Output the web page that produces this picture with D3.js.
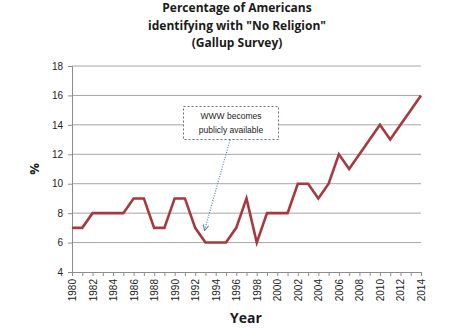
<!DOCTYPE html>
<html>
<head>
<meta charset="utf-8">
<script src="https://cdn.jsdelivr.net/npm/d3@7"></script>
<style>
  html, body { margin: 0; padding: 0; background: #fff; }
  svg { display: block; }
  text { font-family: "Open Sans", "Liberation Sans", sans-serif; }
</style>
</head>
<body>
<script>
// Gallup: share of Americans with no religious identity, by year
const years = [1980, 1981, 1982, 1983, 1984, 1985, 1986, 1987, 1988, 1989,
               1990, 1991, 1992, 1993, 1994, 1995, 1996, 1997, 1998, 1999,
               2000, 2001, 2002, 2003, 2004, 2005, 2006, 2007, 2008, 2009,
               2010, 2011, 2012, 2013, 2014];
const noReligion = [7, 7, 8, 8, 8, 8, 9, 9, 7, 7,
                    9, 9, 7, 6, 6, 6, 7, 9, 6, 8,
                    8, 8, 10, 10, 9, 10, 12, 11, 12, 13,
                    14, 13, 14, 15, 16];
const yTicks = [4, 6, 8, 10, 12, 14, 16, 18];
const xTickLabels = [1980, 1982, 1984, 1986, 1988, 1990, 1992, 1994, 1996,
                     1998, 2000, 2002, 2004, 2006, 2008, 2010, 2012, 2014];
const titleLines = ["Percentage of Americans", "identifying with \"No Religion\"", "(Gallup Survey)"];
const noteLines = ["WWW becomes", "publicly available"];
const noteYear = 1993;

const W = 469, H = 329;
const plot = { left: 72, right: 421, top: 66, bottom: 272 };

const svg = d3.select("body").append("svg").attr("width", W).attr("height", H);

const x = d3.scaleLinear().domain([1980, 2014]).range([plot.left, plot.right]);
const y = d3.scaleLinear().domain([4, 18]).range([plot.bottom, plot.top]);

// horizontal gridlines
svg.append("g")
  .selectAll("line")
  .data(yTicks.filter(d => d > 4))
  .join("line")
  .attr("x1", plot.left).attr("x2", plot.right)
  .attr("y1", d => y(d)).attr("y2", d => y(d))
  .attr("stroke", "#a6a6a6").attr("stroke-width", 1);

// y axis
const yAxis = svg.append("g")
  .attr("transform", `translate(${plot.left},0)`)
  .call(d3.axisLeft(y).tickValues(yTicks).tickSize(4).tickPadding(5));
yAxis.select(".domain").attr("stroke", "#8c8c8c");
yAxis.selectAll(".tick line").attr("stroke", "#8c8c8c");
yAxis.selectAll(".tick text")
  .attr("font-size", 10).attr("fill", "#222")
  .style("font-family", "'Liberation Sans', sans-serif");

// x axis: a tick every year, labels every other year
const xAxis = svg.append("g")
  .attr("transform", `translate(0,${plot.bottom})`)
  .call(d3.axisBottom(x).tickValues(years).tickSize(4).tickFormat(""));
xAxis.select(".domain").attr("stroke", "#8c8c8c");
xAxis.selectAll(".tick line").attr("stroke", "#8c8c8c");

svg.append("g")
  .selectAll("text")
  .data(xTickLabels)
  .join("text")
  .attr("transform", d => `translate(${x(d) + 4},${plot.bottom + 7}) rotate(-90)`)
  .attr("text-anchor", "end")
  .attr("font-size", 10)
  .attr("fill", "#222")
  .style("font-family", "'Liberation Sans', sans-serif")
  .text(d => d);

// data line
const line = d3.line()
  .x((d, i) => x(years[i]))
  .y(d => y(d));

svg.append("path")
  .datum(noReligion)
  .attr("d", line)
  .attr("fill", "none")
  .attr("stroke", "#a8383d")
  .attr("stroke-width", 2.6)
  .attr("stroke-linejoin", "miter");

// title
svg.append("g")
  .selectAll("text")
  .data(titleLines)
  .join("text")
  .attr("x", 237)
  .attr("y", (d, i) => 12 + i * 17.5)
  .attr("text-anchor", "middle")
  .attr("font-size", 12)
  .attr("font-weight", "bold")
  .attr("fill", "#1a1a1a")
  .text(d => d);

// axis titles
svg.append("text")
  .attr("transform", `translate(39,${(plot.top + plot.bottom) / 2}) rotate(-90)`)
  .attr("text-anchor", "middle")
  .attr("font-size", 13)
  .attr("font-weight", "bold")
  .attr("fill", "#1a1a1a")
  .text("%");

svg.append("text")
  .attr("x", 246).attr("y", 323)
  .attr("text-anchor", "middle")
  .attr("font-size", 14)
  .attr("font-weight", "bold")
  .attr("fill", "#1a1a1a")
  .text("Year");

// annotation callout
const note = svg.append("g");
note.append("rect")
  .attr("x", 183.5).attr("y", 106.5)
  .attr("width", 95).attr("height", 33)
  .attr("fill", "#fff")
  .attr("stroke", "#3a4a66")
  .attr("stroke-width", 0.8)
  .attr("stroke-dasharray", "2,2");
note.selectAll("text")
  .data(noteLines)
  .join("text")
  .attr("x", 231)
  .attr("y", (d, i) => 119 + i * 14)
  .attr("text-anchor", "middle")
  .attr("font-size", 8.5)
  .attr("fill", "#222")
  .style("font-family", "'Liberation Sans', sans-serif")
  .text(d => d);

svg.append("defs").append("marker")
  .attr("id", "arrowhead")
  .attr("viewBox", "0 0 10 10")
  .attr("refX", 9).attr("refY", 5)
  .attr("markerWidth", 7).attr("markerHeight", 7)
  .attr("orient", "auto")
  .attr("markerUnits", "userSpaceOnUse")
  .append("path")
  .attr("d", "M1,1 L9,5 L1,9")
  .attr("fill", "none")
  .attr("stroke", "#4f81bd")
  .attr("stroke-width", 1.5);

const noteIdx = years.indexOf(noteYear);
svg.append("line")
  .attr("x1", 230).attr("y1", 140)
  .attr("x2", x(noteYear) - 1).attr("y2", y(noReligion[noteIdx]) - 12)
  .attr("stroke", "#4f81bd")
  .attr("stroke-width", 1.2)
  .attr("stroke-dasharray", "1,1.5")
  .attr("marker-end", "url(#arrowhead)");
</script>
</body>
</html>
